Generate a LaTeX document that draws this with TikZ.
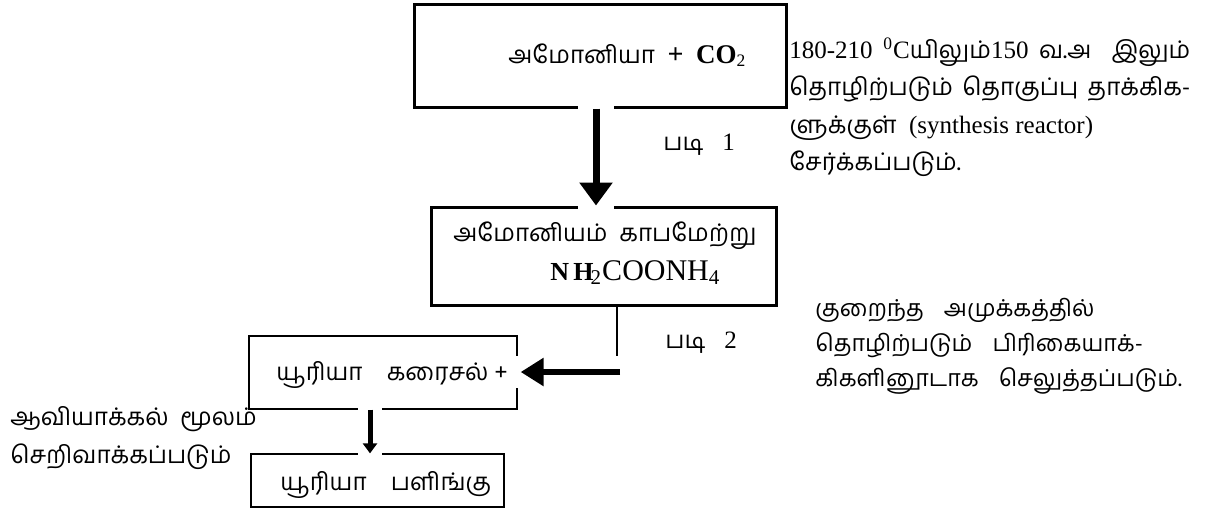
\documentclass[tikz,border=0pt]{standalone}
\usepackage{fontspec}
\setmainfont{Liberation Serif}
\newfontfamily\tamilfont[Script=Tamil,Scale=0.97]{Hind Madurai}
\usetikzlibrary{positioning,arrows.meta}

\begin{document}
\begin{tikzpicture}[x=0.5pt,y=-0.5pt]
\tikzstyle{every node}=[font=\fontsize{12.5}{14}\selectfont]
\tikzstyle{stage}=[draw,line width=1.5pt,inner sep=0pt]
\tikzstyle{thinstage}=[draw,line width=0.65pt,inner sep=0pt]
\tikzstyle{txt}=[anchor=base west,inner sep=0pt,align=left]
\tikzstyle{flow}=[line width=3.5pt,-{Triangle[width=16pt,length=11.5pt]}]

\useasboundingbox (0,0) rectangle (1208,510);

%% Stage boxes
\node[stage,minimum width=186pt,minimum height=51.5pt] (feed) at (600,55.5) {};
\node[stage,minimum width=172.5pt,minimum height=49pt] (carb) at (603.5,256) {};
\node[thinstage,minimum width=134pt,minimum height=36.5pt] (sol) at (383,372.5) {};
\node[thinstage,minimum width=126.5pt,minimum height=26.5pt] (cryst) at (377.5,480.5) {};

%% Box texts
\node[txt] (feedtxt) at (508,63)
  {{\tamilfont அமோனியா}\ \ {\fontsize{14}{16}\selectfont\textbf{+}}\ \ {\fontsize{13.5}{15}\selectfont\textbf{CO}}\textsubscript{2}};
\node[txt] (carbtxt) at (453,241) {\tamilfont அமோனியம்\ \ காபமேற்று};
\node[txt] (carbform) at (550,280)
  {{\fontsize{13}{15}\selectfont\textbf{N\,H}}\kern-1.5pt{\fontsize{15}{16}\selectfont\textsubscript{2}COONH\textsubscript{4}}};
\node[txt] (soltxt) at (276,380) {\tamilfont யூரியா\quad கரைசல் +};
\node[txt] (crysttxt) at (280,490) {\tamilfont யூரியா\quad பளிங்கு};

%% Side notes (base = last line)
\node[txt,font=\fontsize{12.5}{18.75}\selectfont] (reactnote) at (789,170.5)
  {\makebox[200.5pt][s]{180-210 \textsuperscript{0}C{\tamilfont யிலும்}150 {\tamilfont வ.அ\ \ இலும்}}\\
   \makebox[200.5pt][s]{\tamilfont தொழிற்படும்\ \ தொகுப்பு\ \ தாக்கிக-}\\
   {\tamilfont ளுக்குள்}\ \ (synthesis reactor)\\
   {\tamilfont சேர்க்கப்படும்.}};
\node[txt,font=\fontsize{12}{17.5}\selectfont] (sepnote) at (815,386)
  {\tamilfont குறைந்த\hspace{10pt}அமுக்கத்தில்\\
   \tamilfont தொழிற்படும்\hspace{10pt}பிரிகையாக்-\\
   \tamilfont கிகளினூடாக\hspace{10pt}செலுத்தப்படும்.};
\node[txt,font=\fontsize{12.5}{19}\selectfont] (evapnote) at (10,463)
  {\tamilfont ஆவியாக்கல்\ \ மூலம்\\
   \tamilfont செறிவாக்கப்படும்};
\node[txt] (step1) at (663,150) {{\tamilfont படி}\ \ \ 1};
\node[txt] (step2) at (665,348) {{\tamilfont படி}\ \ \ 2};

%% Connectors
\coordinate (drop) at (617,356);
\coordinate (return) at (620,372);
\fill[white] (578,103) rectangle (614,212);
\fill[white] (513,356) rectangle (522,388);
\fill[white] (358,405) rectangle (382,458);

\draw[flow] ([xshift=-2pt]feed.south) -- ([xshift=-2pt]feed.south |- carb.north);
\draw[line width=0.65pt] (carb.south -| drop) -- (drop);
\draw[line width=3pt,-{Triangle[width=13.5pt,length=11.5pt]}] (return) -- ([xshift=1.5pt]return -| sol.east);
\draw[line width=2.5pt,-{Triangle[width=7pt,length=5pt]}] ([xshift=-6.5pt]sol.south) -- ([xshift=-6.5pt]sol.south |- cryst.north);
\end{tikzpicture}
\end{document}
